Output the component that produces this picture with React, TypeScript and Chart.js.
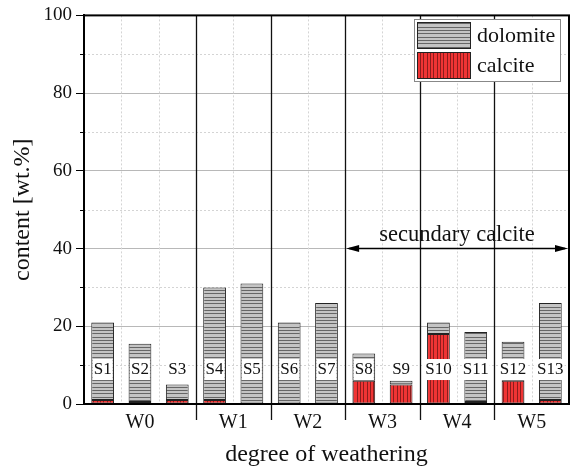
import React, { useEffect, useRef } from "react";
import { Chart, registerables } from "chart.js";

Chart.register(...registerables);

const samples = ["S1", "S2", "S3", "S4", "S5", "S6", "S7", "S8", "S9", "S10", "S11", "S12", "S13"];
const sampleGroup = ["W0", "W0", "W0", "W1", "W1", "W2", "W2", "W3", "W3", "W4", "W4", "W5", "W5"];
const groups = ["W0", "W1", "W2", "W3", "W4", "W5"];
const calcite = [1, 0.5, 1, 1, 0, 0, 0, 6, 5, 18, 0.5, 6, 1];
const dolomite = [20, 15, 4, 29, 31, 21, 26, 7, 1, 3, 18, 10, 25];
const yTicks = [0, 20, 40, 60, 80, 100];
const yMinorTicks = [10, 30, 50, 70, 90];
const sampleLabelY = 9;
const arrowY = 40;
const arrowText = "secundary calcite";
const arrowStartGroup = "W3";

const FONT = "'Liberation Serif', 'Times New Roman', serif";

function makeHPattern(): CanvasPattern | string {
  const c = document.createElement("canvas");
  c.width = 4;
  c.height = 10;
  const g = c.getContext("2d")!;
  g.fillStyle = "#c4c4c4";
  g.fillRect(0, 0, 4, 10);
  g.fillStyle = "#666666";
  [0, 3, 7].forEach((y) => g.fillRect(0, y, 4, 1));
  return g.createPattern(c, "repeat") || "#bbb";
}

function makeVPattern(): CanvasPattern | string {
  const c = document.createElement("canvas");
  c.width = 10;
  c.height = 4;
  const g = c.getContext("2d")!;
  g.fillStyle = "#f03434";
  g.fillRect(0, 0, 10, 4);
  g.fillStyle = "#8c1c1c";
  [0, 3, 7].forEach((x) => g.fillRect(x, 0, 1, 4));
  return g.createPattern(c, "repeat") || "#e33";
}

export default function App() {
  const ref = useRef<HTMLCanvasElement>(null);

  useEffect(() => {
    if (!ref.current) return;
    const dolPat = makeHPattern();
    const calPat = makeVPattern();

    const boundary = (xs: any, i: number) =>
      (xs.getPixelForValue(i - 1) + xs.getPixelForValue(i)) / 2;

    const decor = {
      id: "decor",
      beforeDatasetsDraw(chart: any) {
        const { ctx, chartArea: a, scales } = chart;
        const xs = scales.x;
        const ys = scales.y;
        ctx.save();
        ctx.strokeStyle = "#d4d4d4";
        ctx.lineWidth = 1;
        ctx.setLineDash([2, 2]);
        yMinorTicks.forEach((v) => {
          const y = Math.round(ys.getPixelForValue(v)) + 0.5;
          ctx.beginPath();
          ctx.moveTo(a.left, y);
          ctx.lineTo(a.right, y);
          ctx.stroke();
        });
        for (let i = 1; i < samples.length; i++) {
          if (sampleGroup[i] !== sampleGroup[i - 1]) continue;
          const x = Math.round(boundary(xs, i)) + 0.5;
          ctx.beginPath();
          ctx.moveTo(x, a.top);
          ctx.lineTo(x, a.bottom);
          ctx.stroke();
        }
        ctx.setLineDash([]);
        ctx.strokeStyle = "#000";
        yMinorTicks.forEach((v) => {
          const y = Math.round(ys.getPixelForValue(v)) + 0.5;
          ctx.beginPath();
          ctx.moveTo(a.left - 4, y);
          ctx.lineTo(a.left, y);
          ctx.stroke();
        });
        ctx.strokeStyle = "#111";
        ctx.lineWidth = 1.3;
        for (let i = 1; i < samples.length; i++) {
          if (sampleGroup[i] === sampleGroup[i - 1]) continue;
          const x = Math.round(boundary(xs, i)) + 0.5;
          ctx.beginPath();
          ctx.moveTo(x, a.top);
          ctx.lineTo(x, a.bottom + 16);
          ctx.stroke();
        }
        ctx.restore();
      },
      afterDatasetsDraw(chart: any) {
        const { ctx, chartArea: a, scales } = chart;
        const xs = scales.x;
        const ys = scales.y;
        ctx.save();
        ctx.font = `17px ${FONT}`;
        ctx.textAlign = "center";
        ctx.textBaseline = "middle";
        samples.forEach((s, i) => {
          const x = xs.getPixelForValue(i);
          const y = ys.getPixelForValue(sampleLabelY);
          const w = ctx.measureText(s).width + 2;
          ctx.fillStyle = "#fff";
          ctx.fillRect(x - w / 2, y - 10, w, 21);
          ctx.fillStyle = "#111";
          ctx.fillText(s, x, y + 1);
        });
        ctx.font = `20px ${FONT}`;
        ctx.textBaseline = "middle";
        groups.forEach((g) => {
          const idx = samples.map((_, i) => i).filter((i) => sampleGroup[i] === g);
          const x = (xs.getPixelForValue(idx[0]) + xs.getPixelForValue(idx[idx.length - 1])) / 2;
          ctx.fillStyle = "#111";
          ctx.fillText(g, x, a.bottom + 19);
        });
        const si = sampleGroup.indexOf(arrowStartGroup);
        const x0 = boundary(xs, si);
        const x1 = a.right;
        const ay = ys.getPixelForValue(arrowY);
        ctx.strokeStyle = "#000";
        ctx.fillStyle = "#000";
        ctx.lineWidth = 1.5;
        ctx.beginPath();
        ctx.moveTo(x0 + 4, ay);
        ctx.lineTo(x1 - 4, ay);
        ctx.stroke();
        ctx.beginPath();
        ctx.moveTo(x0 + 1, ay);
        ctx.lineTo(x0 + 14, ay - 3.5);
        ctx.lineTo(x0 + 14, ay + 3.5);
        ctx.closePath();
        ctx.fill();
        ctx.beginPath();
        ctx.moveTo(x1 - 1, ay);
        ctx.lineTo(x1 - 14, ay - 3.5);
        ctx.lineTo(x1 - 14, ay + 3.5);
        ctx.closePath();
        ctx.fill();
        ctx.font = `22.5px ${FONT}`;
        ctx.textAlign = "center";
        ctx.textBaseline = "middle";
        ctx.fillStyle = "#111";
        ctx.fillText(arrowText, (x0 + x1) / 2, ay - 13);
        ctx.strokeStyle = "#000";
        ctx.lineWidth = 2;
        ctx.strokeRect(a.left, a.top, a.right - a.left, a.bottom - a.top);
        const lx = 414, ly = 19, lw = 146, lh = 62;
        ctx.fillStyle = "#fff";
        ctx.fillRect(lx, ly, lw, lh);
        ctx.strokeStyle = "#888";
        ctx.lineWidth = 1;
        ctx.strokeRect(lx + 0.5, ly + 0.5, lw, lh);
        const items = [
          { label: "dolomite", fill: dolPat },
          { label: "calcite", fill: calPat },
        ];
        ctx.font = `22px ${FONT}`;
        ctx.textAlign = "left";
        items.forEach((it, k) => {
          const sy = ly + 3 + k * 30;
          ctx.fillStyle = it.fill as any;
          ctx.fillRect(lx + 3, sy, 54, 27);
          ctx.strokeStyle = "#222";
          ctx.strokeRect(lx + 3.5, sy + 0.5, 53, 26);
          ctx.fillStyle = "#111";
          ctx.fillText(it.label, lx + 63, sy + 14);
        });
        ctx.restore();
      },
    };

    const chart = new Chart(ref.current, {
      type: "bar",
      data: {
        labels: samples,
        datasets: [
          {
            label: "calcite",
            data: calcite,
            backgroundColor: calPat as any,
            borderColor: "#222",
            borderWidth: 1,
            borderSkipped: false,
            categoryPercentage: 1,
            barPercentage: 0.61,
          },
          {
            label: "dolomite",
            data: dolomite,
            backgroundColor: dolPat as any,
            borderColor: "#222",
            borderWidth: 1,
            borderSkipped: false,
            categoryPercentage: 1,
            barPercentage: 0.61,
          },
        ],
      },
      options: {
        responsive: false,
        animation: false,
        layout: { padding: { left: 0, right: 5, top: 14, bottom: 0 } },
        plugins: { legend: { display: false }, tooltip: { enabled: false } },
        scales: {
          x: {
            stacked: true,
            grid: { display: false },
            border: { display: true, color: "#000", width: 2 },
            ticks: { display: false },
            title: {
              display: true,
              text: "degree of weathering",
              color: "#111",
              font: { family: FONT, size: 24, lineHeight: 1 },
              padding: 0,
            },
            afterFit: (s: any) => {
              s.height = 63;
            },
          },
          y: {
            stacked: true,
            min: 0,
            max: 100,
            afterBuildTicks: (s: any) => {
              s.ticks = yTicks.map((v) => ({ value: v }));
            },
            ticks: {
              color: "#111",
              font: { family: FONT, size: 19 },
              padding: 4,
            },
            grid: {
              color: "#b8b8b8",
              lineWidth: 1,
              tickColor: "#000",
              tickLength: 8,
            },
            border: { display: true, color: "#000", width: 2 },
            title: {
              display: true,
              text: "content [wt.%]",
              color: "#111",
              font: { family: FONT, size: 24, lineHeight: 1 },
              padding: { top: 11, bottom: 0 },
            },
            afterFit: (s: any) => {
              s.width = 84;
            },
          },
        },
      },
      plugins: [decor],
    });
    return () => chart.destroy();
  }, []);

  return (
    <div style={{ position: "absolute", left: 0, top: 0, width: 574, height: 467, background: "#fff" }}>
      <canvas ref={ref} width={574} height={467} style={{ display: "block" }} />
    </div>
  );
}
